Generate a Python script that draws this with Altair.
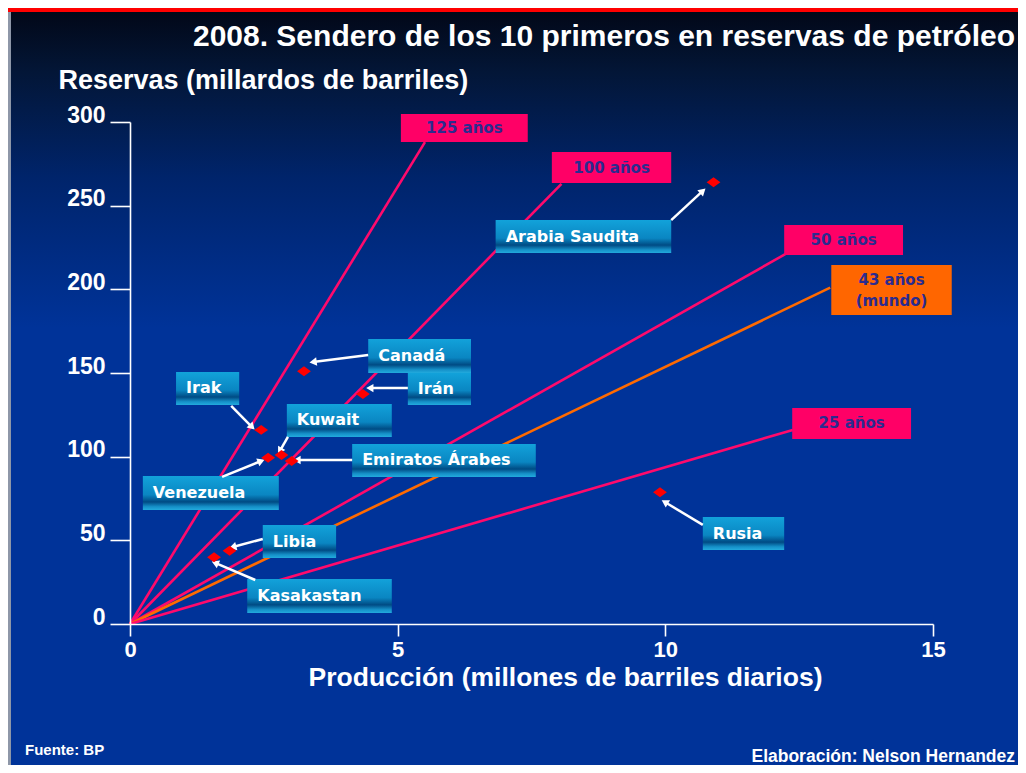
import math
import altair as alt
import pandas as pd

# ---------------- data ----------------
countries = ["Arabia Saudita", "Canadá", "Irán", "Irak", "Kuwait", "Venezuela",
             "Emiratos Árabes", "Rusia", "Libia", "Kasakastan"]
production = [10.9, 3.25, 4.35, 2.45, 2.83, 2.58, 3.02, 9.9, 1.86, 1.57]
reserves = [264, 151, 137.5, 116, 101, 99.4, 97.4, 78.7, 43.8, 39.9]

# label boxes (data units)
box_x1 = [6.83, 4.45, 5.19, 0.86, 2.93, 0.24, 4.15, 10.70, 2.48, 2.19]
box_x2 = [10.11, 6.37, 6.37, 2.04, 4.89, 2.78, 7.58, 12.22, 3.85, 4.89]
box_top = [241.4, 170.3, 150.0, 150.6, 131.5, 88.4, 107.6, 63.9, 59.2, 26.9]
box_bot = [221.7, 150.0, 130.9, 130.9, 111.8, 68.1, 87.9, 44.2, 39.4, 6.6]

# arrows from label to point (data units)
arr_x1 = [10.11, 4.45, 5.19, 1.89, 2.95, 1.72, 4.15, 10.70, 2.48, 2.34]
arr_y1 = [241.4, 160.8, 141.0, 130.3, 111.8, 87.9, 98.0, 59.2, 50.8, 26.3]
arr_x2 = [10.70, 3.42, 4.48, 2.28, 2.80, 2.45, 3.12, 9.99, 1.92, 1.59]
arr_y2 = [258.8, 156.6, 141.0, 117.7, 103.4, 97.4, 98.0, 72.9, 46.0, 36.5]

# paths (years of reserves) drawn from the origin
path_labels = ["125 años", "100 años", "50 años", "43 años\n(mundo)", "25 años"]
path_end_x = [5.51, 8.06, 12.24, 13.08, 12.38]
path_end_y = [288, 263, 221, 201, 116]
path_line_colors = ["#ff0a6c", "#ff0a6c", "#ff0a6c", "#ff6a00", "#ff0a6c"]
path_box_colors = ["#ff0066", "#ff0066", "#ff0066", "#ff6600", "#ff0066"]
pbox_x1 = [5.06, 7.88, 12.22, 13.10, 12.37]
pbox_x2 = [7.43, 10.11, 14.44, 15.35, 14.59]
pbox_top = [304.8, 282.1, 238.4, 214.5, 129.1]
pbox_bot = [288.0, 263.5, 220.5, 184.7, 110.6]
pbox_text_y = [296.4, 272.8, 229.5, 205.6, 119.9]

title = "2008. Sendero de los 10 primeros en reservas de petróleo"
y_title = "Reservas (millardos de barriles)"
x_title = "Producción (millones de barriles diarios)"
source = "Fuente: BP"
credit = "Elaboración: Nelson Hernandez"

# ---------------- layout ----------------
W, H = 803, 502
PAD = {"left": 122, "top": 114, "right": 85, "bottom": 141}
TOTAL_W = W + PAD["left"] + PAD["right"]
TOTAL_H = H + PAD["top"] + PAD["bottom"]
FONT = "Liberation Sans, Arial, sans-serif"
BOX_FONT = "DejaVu Sans, Verdana, sans-serif"

xs = alt.Scale(domain=[0, 15], nice=False, zero=True)
ys = alt.Scale(domain=[0, 300], nice=False, zero=True)

one = pd.DataFrame({"k": [0]})

bg_grad = alt.Gradient(
    gradient="linear", x1=0, x2=0, y1=0, y2=1,
    stops=[alt.GradientStop(offset=0, color="#020818"),
           alt.GradientStop(offset=0.08, color="#031637"),
           alt.GradientStop(offset=0.22, color="#00246b"),
           alt.GradientStop(offset=0.42, color="#003399"),
           alt.GradientStop(offset=1, color="#003399")])

background = alt.Chart(one).mark_rect(color=bg_grad).encode(
    x=alt.value(-PAD["left"] + 3), x2=alt.value(TOTAL_W - PAD["left"]),
    y=alt.value(-PAD["top"] + 4), y2=alt.value(TOTAL_H - PAD["top"]))
red_top = alt.Chart(one).mark_rect(color="#ff0000").encode(
    x=alt.value(-PAD["left"]), x2=alt.value(TOTAL_W - PAD["left"]),
    y=alt.value(-PAD["top"]), y2=alt.value(-PAD["top"] + 4))
grey_left = alt.Chart(one).mark_rect(color="#8e97a8").encode(
    x=alt.value(-PAD["left"]), x2=alt.value(-PAD["left"] + 3),
    y=alt.value(-PAD["top"] + 4), y2=alt.value(TOTAL_H - PAD["top"]))

# path lines
rows = []
for lab, ex, ey in zip(path_labels, path_end_x, path_end_y):
    rows.append({"path": lab, "x": 0.0, "y": 0.0, "o": 0})
    rows.append({"path": lab, "x": ex, "y": ey, "o": 1})
paths_df = pd.DataFrame(rows)

axis_x = alt.Axis(values=[0, 5, 10, 15], title=x_title, grid=False,
                  domainColor="white", domainWidth=1.6, tickColor="white",
                  tickWidth=1.6, tickSize=12, labelColor="white",
                  labelFont=FONT, labelFontSize=22, labelFontWeight="bold",
                  labelPadding=3, labelFlush=False, zindex=2,
                  titleColor="white", titleFont=FONT, titleFontSize=26.5,
                  titleFontWeight="bold", titleX=435, titleY=53,
                  titleBaseline="middle")
axis_y = alt.Axis(values=[0, 50, 100, 150, 200, 250, 300], title=y_title,
                  grid=False, domainColor="white", domainWidth=1.6,
                  tickColor="white", tickWidth=1.6, tickSize=20,
                  labelColor="white", labelFont=FONT, labelFontSize=23,
                  labelFontWeight="bold", labelPadding=5,
                  labelBaseline="alphabetic", labelFlush=False, zindex=2,
                  titleColor="white", titleFont=FONT, titleFontSize=27,
                  titleFontWeight="bold", titleAngle=0, titleAlign="left",
                  titleBaseline="middle", titleX=-72, titleY=-42)

lines = alt.Chart(paths_df).mark_line(strokeWidth=2.6).encode(
    x=alt.X("x:Q", scale=xs, axis=axis_x),
    y=alt.Y("y:Q", scale=ys, axis=axis_y),
    color=alt.Color("path:N", scale=alt.Scale(domain=path_labels,
                                              range=path_line_colors),
                    legend=None),
    order="o:Q")

pbox_df = pd.DataFrame({"label": path_labels, "x1": pbox_x1, "x2": pbox_x2,
                        "top": pbox_top, "bot": pbox_bot,
                        "fill": path_box_colors, "ty": pbox_text_y})
pbox_df["cx"] = (pbox_df["x1"] + pbox_df["x2"]) / 2

pboxes = alt.Chart(pbox_df).mark_rect().encode(
    x=alt.X("x1:Q", scale=xs), x2="x2:Q",
    y=alt.Y("top:Q", scale=ys), y2="bot:Q",
    color=alt.Color("fill:N", scale=None))
ptexts = alt.Chart(pbox_df).mark_text(
    font=BOX_FONT, fontSize=15, fontWeight="bold", color="#2b2b8f",
    align="center", baseline="middle", lineBreak="\n", lineHeight=21).encode(
    x=alt.X("cx:Q", scale=xs), y=alt.Y("ty:Q", scale=ys), text="label:N")

# country label boxes
box_grad = alt.Gradient(
    gradient="linear", x1=0, x2=0, y1=0, y2=1,
    stops=[alt.GradientStop(offset=0, color="#12a2da"),
           alt.GradientStop(offset=0.55, color="#0a86c2"),
           alt.GradientStop(offset=0.76, color="#004b84"),
           alt.GradientStop(offset=0.9, color="#1590c8"),
           alt.GradientStop(offset=1, color="#22aadd")])
cbox_df = pd.DataFrame({"country": countries, "x1": box_x1, "x2": box_x2,
                        "top": box_top, "bot": box_bot})
cbox_df["cy"] = (cbox_df["top"] + cbox_df["bot"]) / 2
cboxes = alt.Chart(cbox_df).mark_rect(color=box_grad).encode(
    x=alt.X("x1:Q", scale=xs), x2="x2:Q",
    y=alt.Y("top:Q", scale=ys), y2="bot:Q")
ctexts = alt.Chart(cbox_df).mark_text(
    font=BOX_FONT, fontSize=16, fontWeight="bold", color="white",
    align="left", baseline="middle", dx=10).encode(
    x=alt.X("x1:Q", scale=xs), y=alt.Y("cy:Q", scale=ys), text="country:N")

# arrows
sx, sy = W / 15, H / 300
angles = []
for a, b, c, d in zip(arr_x1, arr_y1, arr_x2, arr_y2):
    ang = math.degrees(math.atan2((c - a) * sx, (d - b) * sy)) % 360
    angles.append(ang)
arr_df = pd.DataFrame({"x1": arr_x1, "y1": arr_y1, "x2": arr_x2,
                       "y2": arr_y2, "ang": angles})
arrow_lines = alt.Chart(arr_df).mark_rule(color="white", strokeWidth=2.5).encode(
    x=alt.X("x1:Q", scale=xs), y=alt.Y("y1:Q", scale=ys),
    x2="x2:Q", y2="y2:Q")
arrow_heads = alt.Chart(arr_df).mark_point(
    shape="triangle-up", filled=True, color="white", opacity=1, size=70).encode(
    x=alt.X("x2:Q", scale=xs), y=alt.Y("y2:Q", scale=ys),
    angle=alt.Angle("ang:Q", scale=None))

pts_df = pd.DataFrame({"country": countries, "prod": production,
                       "res": reserves})
points = alt.Chart(pts_df).mark_point(
    shape="M-1,0L0,-0.72L1,0L0,0.72Z", filled=True, color="#ff0000",
    opacity=1, size=190).encode(
    x=alt.X("prod:Q", scale=xs), y=alt.Y("res:Q", scale=ys))

# titles / footers
title_mark = alt.Chart(one).mark_text(
    text=title, font=FONT, fontSize=30, fontWeight="bold", color="white",
    align="right", baseline="middle").encode(
    x=alt.value(885), y=alt.value(-85))
src_mark = alt.Chart(one).mark_text(
    text=source, font=FONT, fontSize=15, fontWeight="bold", color="white",
    align="left", baseline="middle").encode(
    x=alt.value(-105), y=alt.value(628))
credit_mark = alt.Chart(one).mark_text(
    text=credit, font=FONT, fontSize=17.5, fontWeight="bold", color="white",
    align="right", baseline="middle").encode(
    x=alt.value(885), y=alt.value(635))

chart = alt.layer(
    background, red_top, grey_left, lines, pboxes, ptexts, cboxes,
    arrow_lines, arrow_heads, points, ctexts, title_mark, src_mark,
    credit_mark
).properties(
    width=W, height=H,
    autosize=alt.AutoSizeParams(type="none"),
    padding=PAD,
    background="white",
).configure_view(stroke=None)

chart.save("out.html", embed_options={"renderer": "svg", "actions": False})
